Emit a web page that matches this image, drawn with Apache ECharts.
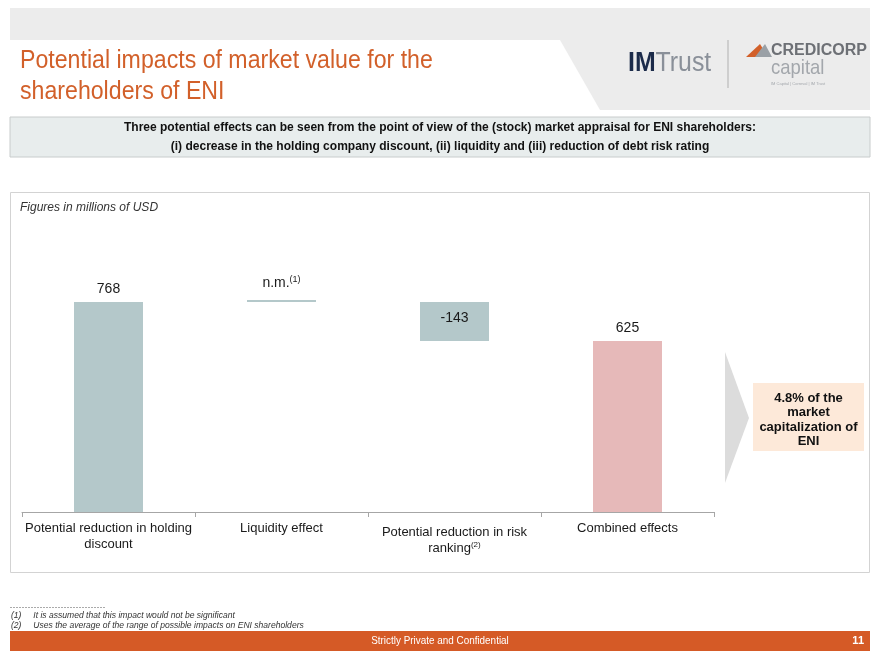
<!DOCTYPE html>
<html>
<head>
<meta charset="utf-8">
<title>Potential impacts of market value for the shareholders of ENI</title>
<script src="https://cdn.jsdelivr.net/npm/echarts@6/dist/echarts.min.js"></script>
<style>
  html, body { margin: 0; padding: 0; background: #fff; }
  #chart { width: 880px; height: 660px; }
</style>
</head>
<body>
<div id="chart"></div>
<script>
// categories and values (millions of USD)
var categories = [
  'Potential reduction in holding\ndiscount',
  'Liquidity effect',
  'Potential reduction in risk\nranking{sup|(2)}',
  'Combined effects'
];
var changes = [768, 0, -143, 625];     // 0 = not meaningful
var isTotal = [false, false, false, true];
var valueLabels = ['768', 'n.m.{sup|(1)}', '-143', '625'];

var sans = '"Liberation Sans", Arial, sans-serif';

// waterfall: invisible base + visible step
var baseValues = [];
var stepValues = [];
var running = 0;
changes.forEach(function (v, i) {
  if (isTotal[i]) {
    baseValues.push(0);
    stepValues.push(v);
    running = v;
  } else if (v >= 0) {
    baseValues.push(running);
    stepValues.push(v);
    running += v;
  } else {
    running += v;
    baseValues.push(running);
    stepValues.push(-v);
  }
});

var chart = echarts.init(document.getElementById('chart'));

chart.setOption({
  animation: false,
  backgroundColor: '#fff',
  grid: { left: 22, right: 166, top: 232, bottom: 148 },
  xAxis: {
    type: 'category',
    data: categories.map(function (c, i) {
      return i === 2 ? { value: c, textStyle: { padding: [4, 0, 0, 0] } } : c;
    }),
    axisLine: { lineStyle: { color: '#a6a6a6', width: 1 } },
    axisTick: { show: true, alignWithLabel: false, length: 5, lineStyle: { color: '#a6a6a6' } },
    axisLabel: {
      interval: 0,
      margin: 8,
      color: '#1a1a1a',
      fontFamily: sans,
      fontSize: 13,
      lineHeight: 16,
      rich: { sup: { fontSize: 8, padding: [0, 0, 6, 0], fontFamily: sans, color: '#1a1a1a' } }
    }
  },
  yAxis: { type: 'value', min: 0, max: 1024, show: false, splitLine: { show: false } },
  series: [
    {
      type: 'bar',
      stack: 'wf',
      barWidth: 69,
      itemStyle: { color: 'transparent' },
      emphasis: { disabled: true },
      data: baseValues
    },
    {
      type: 'bar',
      stack: 'wf',
      barWidth: 69,
      barMinHeight: 2,
      data: stepValues.map(function (v, i) {
        var pos = changes[i] < 0 ? 'insideTop' : 'top';
        return {
          value: v,
          itemStyle: { color: isTotal[i] ? '#e6b9b9' : '#b4c8ca' },
          label: {
            show: true,
            position: pos,
            distance: changes[i] < 0 ? 9 : (changes[i] === 0 ? 8 : 6),
            formatter: valueLabels[i],
            color: '#1a1a1a',
            fontFamily: sans,
            fontSize: 14,
            rich: { sup: { fontSize: 9, padding: [0, 0, 8, 0], fontFamily: sans, color: '#1a1a1a' } }
          }
        };
      })
    }
  ],
  graphic: [
    // header band
    { type: 'rect', shape: { x: 10, y: 8, width: 860, height: 102 }, style: { fill: '#ececec' }, silent: true },
    { type: 'polygon', shape: { points: [[10, 40], [560, 40], [600, 110], [10, 110]] }, style: { fill: '#ffffff' }, silent: true },
    { type: 'text', x: 20, y: 45, scaleX: 0.89, style: { text: 'Potential impacts of market value for the\nshareholders of ENI', fill: '#d2602a', font: '26px ' + sans, lineHeight: 31 } },
    // logos
    { type: 'text', x: 628, y: 50, scaleX: 0.92, style: { text: '{a|IM}{b|Trust}', rich: {
      a: { fill: '#1c2b4a', font: 'bold 27px ' + sans },
      b: { fill: '#8a9099', font: '27px ' + sans }
    } } },
    { type: 'line', shape: { x1: 728, y1: 40, x2: 728, y2: 88 }, style: { stroke: '#b0b0b0', lineWidth: 1 } },
    { type: 'polygon', shape: { points: [[746, 57], [760, 44], [768, 57]] }, style: { fill: '#d2602a' } },
    { type: 'polygon', shape: { points: [[755, 57], [765, 44], [772, 57]] }, style: { fill: '#9aa0a6' } },
    { type: 'text', x: 771, y: 43, style: { text: 'CREDICORP', fill: '#6d7075', font: 'bold 16px ' + sans } },
    { type: 'text', x: 771, y: 58, scaleX: 0.88, style: { text: 'capital', fill: '#a3a7ac', font: '21px ' + sans } },
    { type: 'text', x: 771, y: 82, style: { text: 'IM Capital | Correval | IM Trust', fill: '#a3a7ac', font: '4px ' + sans } },
    // banner
    { type: 'rect', shape: { x: 10, y: 117, width: 860, height: 40 }, style: { fill: '#e8eded', stroke: '#c8cccc', lineWidth: 1 } },
    { type: 'text', x: 440, y: 137, scaleX: 0.925, style: {
      text: 'Three potential effects can be seen from the point of view of the (stock) market appraisal for ENI shareholders:\n(i) decrease in the holding company discount, (ii) liquidity and (iii) reduction of debt risk rating',
      align: 'center', verticalAlign: 'middle', fill: '#111', font: 'bold 13px ' + sans, lineHeight: 19 } },
    // chart frame
    { type: 'rect', z: -1, shape: { x: 10.5, y: 192.5, width: 859, height: 380 }, style: { fill: 'none', stroke: '#d3d3d3', lineWidth: 1 } },
    { type: 'text', x: 20, y: 202, style: { text: 'Figures in millions of USD', fill: '#333', font: 'italic 12px ' + sans } },
    // chevron and callout
    { type: 'polygon', shape: { points: [[725, 352], [749, 418], [725, 483]] }, style: { fill: '#dcdcdc' } },
    { type: 'rect', shape: { x: 753, y: 383, width: 111, height: 68 }, style: { fill: '#fde9d9' } },
    { type: 'text', x: 808.5, y: 420, style: { text: '4.8% of the\nmarket\ncapitalization of\nENI', align: 'center', verticalAlign: 'middle', fill: '#111', font: 'bold 13px ' + sans, lineHeight: 14.5 } },
    // footnotes
    { type: 'line', shape: { x1: 10, y1: 607.5, x2: 105, y2: 607.5 }, style: { stroke: '#aaa', lineWidth: 1, lineDash: [2, 1] } },
    { type: 'text', x: 11, y: 611, scaleX: 0.95, style: { text: '(1)     It is assumed that this impact would not be significant', fill: '#333', font: 'italic 9px ' + sans } },
    { type: 'text', x: 11, y: 621, scaleX: 0.95, style: { text: '(2)     Uses the average of the range of possible impacts on ENI shareholders', fill: '#333', font: 'italic 9px ' + sans } },
    // footer bar
    { type: 'rect', shape: { x: 10, y: 631, width: 860, height: 20 }, style: { fill: '#d55a26' } },
    { type: 'text', x: 440, y: 641, scaleX: 0.9, style: { text: 'Strictly Private and Confidential', align: 'center', verticalAlign: 'middle', fill: '#fff', font: '11px ' + sans } },
    { type: 'text', x: 864, y: 641, style: { text: '11', align: 'right', verticalAlign: 'middle', fill: '#fff', font: 'bold 11px ' + sans } }
  ]
});
</script>
</body>
</html>
